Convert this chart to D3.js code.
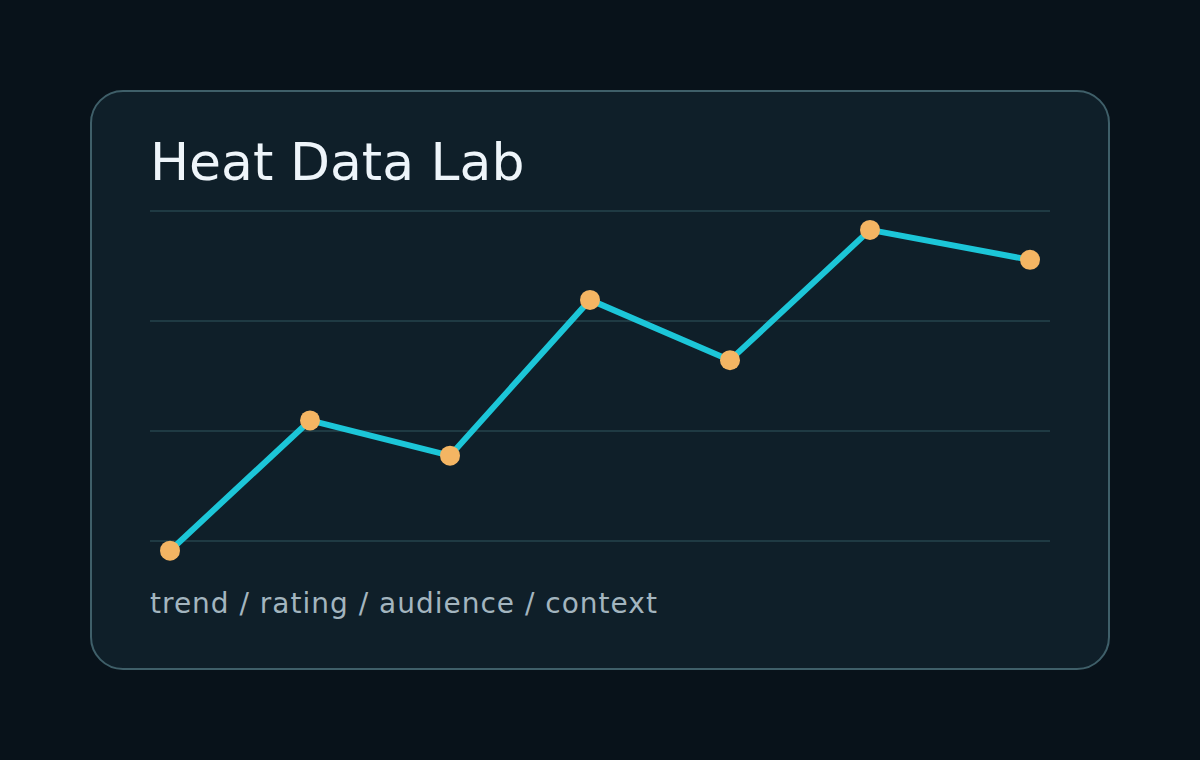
<!DOCTYPE html>
<meta charset="utf-8">
<body style="margin:0;background:#08121a">
<div class="chart"></div>
<script src="https://d3js.org/d3.v7.min.js"></script>
<script>
    // days since start, and the heat score for each reading
    const days = [0, 7, 14, 21, 28, 35, 43];
    const scores = [22.8, 52.4, 44.4, 79.8, 66.1, 95.7, 88.9];
    const gridValues = [25, 50, 75, 100];
    const title = "Heat Data Lab";
    const subtitle = "trend / rating / audience / context";

    const width = 1200, height = 760;

    const svg = d3.select(".chart").append("svg")
        .attr("width", width)
        .attr("height", height)
        .style("display", "block");

    svg.append("rect")
        .attr("width", width)
        .attr("height", height)
        .attr("fill", "#08121a");

    // card
    svg.append("rect")
        .attr("x", 91).attr("y", 91)
        .attr("width", 1018).attr("height", 578)
        .attr("rx", 32)
        .attr("fill", "#0f1f29")
        .attr("stroke", "#3f5f69")
        .attr("stroke-width", 2);

    svg.append("text")
        .attr("x", 150).attr("y", 180)
        .attr("font-family", "DejaVu Sans")
        .attr("font-size", 52)
        .attr("fill", "#eef5fa")
        .text(title);

    let x = d3.scaleLinear().domain([0, 43]).range([170, 1030]);
    let y = d3.scaleLinear().domain([0, 100]).range([651, 211]);

    svg.append("g")
        .selectAll("line")
        .data(gridValues)
        .join("line")
        .attr("x1", 150).attr("x2", 1050)
        .attr("y1", d => y(d)).attr("y2", d => y(d))
        .attr("stroke", "#1f3a43")
        .attr("stroke-width", 2);

    let points = days.map((d, i) => ({day: d, score: scores[i]}));

    let line = d3.line()
        .x(d => x(d.day))
        .y(d => y(d.score));

    svg.append("path")
        .datum(points)
        .attr("d", line)
        .attr("fill", "none")
        .attr("stroke", "#1cc6d8")
        .attr("stroke-width", 6)
        .attr("stroke-linejoin", "round");

    svg.append("g")
        .selectAll("circle")
        .data(points)
        .join("circle")
        .attr("cx", d => x(d.day))
        .attr("cy", d => y(d.score))
        .attr("r", 10)
        .attr("fill", "#f4b563");

    svg.append("text")
        .attr("x", 150).attr("y", 613)
        .attr("font-family", "DejaVu Sans")
        .attr("font-size", 28)
        .attr("letter-spacing", 1)
        .attr("fill", "#a3b5bf")
        .text(subtitle);
</script>
</body>
